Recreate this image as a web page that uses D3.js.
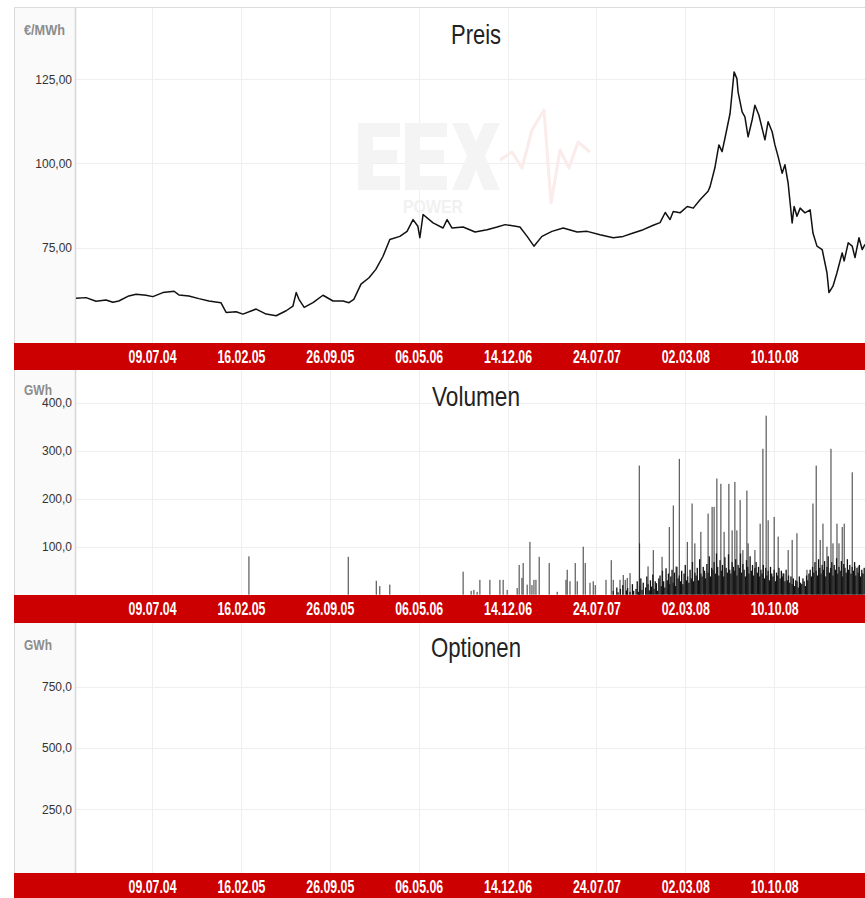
<!DOCTYPE html>
<html><head><meta charset="utf-8">
<script src="https://cdn.jsdelivr.net/npm/d3@7/dist/d3.min.js"></script>
<style>body{margin:0;background:#fff;} svg{display:block;}</style>
</head><body>
<svg id="chart" width="865" height="898"></svg>
<script>
// ---------- DATA ----------
const xTickLabels = ["09.07.04","16.02.05","26.09.05","06.05.06","14.12.06","24.07.07","02.03.08","10.10.08"];
const xDomain = ["2004-01-01","2009-05-25"];

const priceTicks = [75, 100, 125];
const volumeTicks = [100, 200, 300, 400];
const optionTicks = [250, 500, 750];

const priceDates = ["2004-01-01","2004-01-26","2004-02-20","2004-03-16","2004-04-02","2004-04-17","2004-05-12","2004-05-30","2004-06-24","2004-07-11","2004-08-05","2004-09-02","2004-09-14","2004-10-09","2004-11-03","2004-11-28","2004-12-28","2005-01-10","2005-02-04","2005-02-21","2005-03-26","2005-04-20","2005-05-15","2005-06-09","2005-06-26","2005-07-04","2005-07-11","2005-07-24","2005-08-15","2005-09-09","2005-10-04","2005-10-29","2005-11-13","2005-11-25","2005-12-13","2006-01-02","2006-01-19","2006-02-06","2006-02-23","2006-03-20","2006-04-07","2006-04-22","2006-05-04","2006-05-09","2006-05-17","2006-06-11","2006-07-06","2006-07-16","2006-07-28","2006-08-25","2006-09-24","2006-10-24","2006-11-18","2006-12-08","2007-01-14","2007-02-01","2007-02-18","2007-03-10","2007-04-04","2007-05-02","2007-06-06","2007-07-01","2007-08-02","2007-09-04","2007-09-29","2007-10-24","2007-11-18","2007-12-13","2007-12-30","2008-01-12","2008-01-24","2008-02-01","2008-02-18","2008-03-07","2008-03-22","2008-04-08","2008-04-28","2008-05-03","2008-05-15","2008-05-25","2008-06-02","2008-06-09","2008-06-22","2008-07-02","2008-07-09","2008-07-12","2008-07-22","2008-07-29","2008-08-06","2008-08-16","2008-08-23","2008-09-02","2008-09-17","2008-09-25","2008-10-05","2008-10-12","2008-10-20","2008-10-30","2008-11-06","2008-11-14","2008-11-24","2008-11-29","2008-12-06","2008-12-14","2008-12-26","2009-01-08","2009-01-15","2009-01-25","2009-02-07","2009-02-19","2009-02-24","2009-03-06","2009-03-16","2009-03-29","2009-04-03","2009-04-13","2009-04-23","2009-04-30","2009-05-10","2009-05-18","2009-05-25"];
const priceValues = [59.9,60.1,59.0,59.4,58.7,59.1,60.6,61.1,60.8,60.4,61.6,62.0,60.9,60.6,59.8,59.1,58.6,55.7,55.9,55.2,56.7,55.2,54.7,56.2,57.6,61.6,59.6,57.2,58.6,60.8,59.1,59.1,58.6,59.6,64.1,66.0,68.5,72.4,77.4,78.3,79.8,83.3,81.3,77.9,84.8,82.3,80.8,83.3,80.8,81.1,79.6,80.3,81.1,81.8,81.1,78.3,75.4,78.3,79.8,80.8,79.6,79.8,78.8,77.9,78.3,79.3,80.3,81.6,82.4,85.4,83.3,85.7,85.3,87.2,86.7,89.2,91.7,93.1,98.7,105.5,103.5,107.4,114.9,127.2,125.2,121.2,115.3,113.8,107.9,112.9,117.3,114.3,107.0,112.4,109.4,105.5,102.0,97.1,99.6,94.1,82.3,87.2,84.3,86.7,85.3,86.2,79.3,75.4,74.4,67.5,61.6,63.5,67.5,73.4,71.0,76.4,75.4,72.0,77.9,74.4,75.9];

// individual volume spikes
const volumeDates = ["2005-03-08","2005-11-11","2006-01-20","2006-01-29","2006-02-23","2006-08-25","2006-09-14","2006-09-21","2006-09-29","2006-10-06","2006-10-31","2006-11-25","2006-12-03","2006-12-13","2007-01-07","2007-01-12","2007-01-19","2007-01-22","2007-02-01","2007-02-08","2007-02-13","2007-02-18","2007-02-23","2007-03-03","2007-03-28","2007-04-17","2007-05-09","2007-05-12","2007-05-19","2007-06-01","2007-06-06","2007-06-21","2007-06-26","2007-07-08","2007-07-16","2007-07-21","2007-08-17","2007-08-30","2007-09-04","2007-09-21","2007-09-29","2007-10-04","2007-10-09","2007-10-16","2007-11-08","2007-11-09","2007-11-30","2007-12-13","2008-01-04","2008-01-22","2008-02-01","2008-02-08","2008-02-16","2008-03-07","2008-03-19","2008-03-26","2008-04-10","2008-04-20","2008-04-28","2008-05-08","2008-05-13","2008-05-20","2008-05-30","2008-06-07","2008-06-19","2008-06-27","2008-07-04","2008-07-09","2008-07-17","2008-07-24","2008-08-03","2008-08-06","2008-08-23","2008-09-05","2008-09-12","2008-09-20","2008-09-25","2008-10-10","2008-10-20","2008-11-01","2008-11-14","2008-11-24","2008-12-06","2008-12-31","2009-01-15","2009-01-23","2009-02-02","2009-02-09","2009-02-19","2009-03-01","2009-03-06","2009-03-16","2009-03-21","2009-03-29","2009-04-03","2009-04-23","2009-04-30","2009-05-08","2009-05-18"];
const volumeValues = [80,79,29,18,21,48,8,10,6,31,31,31,31,10,14,62,35,66,21,110,20,31,31,79,66,6,31,52,28,66,28,100,66,25,28,20,31,72,31,31,41,31,35,45,269,107,59,93,79,141,186,59,283,110,190,107,131,45,169,183,183,242,231,131,231,134,235,134,197,93,217,107,93,148,304,373,155,162,121,45,93,114,128,52,190,269,114,148,100,304,107,148,107,141,148,255,59,59,45];

// dense daily trading volume, one value every 3 days from 2007-09-01
const volumeDenseStart = "2007-09-01";
const volumeDenseStepDays = 3;
const volumeDenseValues = [0,8,0,0,15,5,0,12,0,20,0,0,9,14,0,6,0,22,8,0,
12,28,6,18,34,10,25,0,15,38,22,9,30,17,42,12,28,24,8,34,
40,18,50,28,15,55,30,44,22,38,52,25,46,18,58,34,40,28,50,22,
44,62,30,38,25,52,34,68,28,46,40,56,30,74,44,38,58,50,34,64,
46,80,38,56,52,68,44,86,58,40,72,50,62,38,78,56,46,84,52,44,
68,58,50,74,40,62,56,86,46,64,52,38,72,58,44,80,50,62,40,56,
68,46,58,38,52,44,62,34,56,40,50,30,58,44,38,52,28,46,40,56,
34,50,38,44,28,52,30,40,25,38,22,34,18,30,28,15,38,25,22,34,
28,18,40,30,44,52,38,58,46,68,50,40,74,56,44,62,52,70,38,58,
80,46,56,68,40,62,52,76,44,58,50,70,38,64,56,46,74,52,62,44,
58,50,68,40,56,46,62,38,52,44,56];

const optionDates = [];
const optionValues = [];

// ---------- CHART ----------
const W = 865, H = 898;
const left = 76, right = 865, frameLeft = 14;
const svg = d3.select("#chart");
const parseISO = d3.timeParse("%Y-%m-%d");
const parseTick = d3.timeParse("%d.%m.%y");
const de = d3.formatLocale({decimal: ",", thousands: ".", grouping: [3], currency: ["", " €"]});

const x = d3.scaleTime().domain(xDomain.map(parseISO)).range([left, right]);
const tickDates = xTickLabels.map(parseTick);

const panels = [
  {title: "Preis", unit: "€/MWh", top: 8, bottom: 343, bandEnd: 370,
   y: d3.scaleLinear().domain([75, 125]).range([247.5, 79.3]), ticks: priceTicks, fmt: de.format(".2f"),
   titleY: 44, titleW: 50, unitY: 34.5, unitW: 41},
  {title: "Volumen", unit: "GWh", top: 370, bottom: 595, bandEnd: 623,
   y: d3.scaleLinear().domain([0, 400]).range([594.7, 402.7]), ticks: volumeTicks, fmt: de.format(".1f"),
   titleY: 406, titleW: 88, unitY: 395, unitW: 28},
  {title: "Optionen", unit: "GWh", top: 623, bottom: 873, bandEnd: 900,
   y: d3.scaleLinear().domain([0, 750]).range([870.6, 686.7]), ticks: optionTicks, fmt: de.format(".1f"),
   titleY: 657, titleW: 90, unitY: 650, unitW: 28}
];

// top frame line
svg.append("line").attr("x1", frameLeft).attr("x2", W).attr("y1", 7.5).attr("y2", 7.5)
  .attr("stroke", "#dcdcdc");

panels.forEach((p, i) => {
  const g = svg.append("g");
  g.append("rect").attr("x", frameLeft).attr("y", p.top).attr("width", left - frameLeft)
    .attr("height", p.bottom - p.top).attr("fill", "#fafafa");
  g.append("g").selectAll("line").data(p.ticks).join("line")
    .attr("x1", left).attr("x2", right)
    .attr("y1", d => Math.round(p.y(d)) + 0.5).attr("y2", d => Math.round(p.y(d)) + 0.5)
    .attr("stroke", "#efefef");
  g.append("g").selectAll("line").data(tickDates).join("line")
    .attr("x1", d => Math.round(x(d)) + 0.5).attr("x2", d => Math.round(x(d)) + 0.5)
    .attr("y1", p.top).attr("y2", p.bottom)
    .attr("stroke", "#efefef");
  g.append("line").attr("x1", frameLeft + 0.5).attr("x2", frameLeft + 0.5)
    .attr("y1", p.top).attr("y2", p.bottom).attr("stroke", "#d8d8d8");
  g.append("line").attr("x1", left - 0.5).attr("x2", left - 0.5)
    .attr("y1", p.top).attr("y2", p.bottom).attr("stroke", "#d6d6d6").attr("stroke-width", 1.5);

  const ya = d3.axisLeft(p.y).tickValues(p.ticks).tickFormat(p.fmt).tickSize(0).tickPadding(4);
  const yg = g.append("g").attr("transform", `translate(${left},0)`).call(ya);
  yg.select(".domain").remove();
  yg.selectAll("text").attr("font-family", "Liberation Sans, Arial, sans-serif")
    .attr("font-size", 12).attr("fill", "#333");

  g.append("text").attr("x", 24).attr("y", p.unitY).text(p.unit)
    .attr("font-family", "Liberation Sans Narrow, Liberation Sans, Arial, sans-serif")
    .attr("font-weight", "bold").attr("font-size", 14).attr("fill", "#8c8c8c")
    .attr("textLength", p.unitW).attr("lengthAdjust", "spacingAndGlyphs");

  g.append("rect").attr("x", frameLeft).attr("y", p.bottom).attr("width", W - frameLeft)
    .attr("height", p.bandEnd - p.bottom).attr("fill", "#cc0000");
  const xa = d3.axisBottom(x).tickValues(tickDates).tickFormat((d, k) => xTickLabels[k]).tickSize(0).tickPadding(0);
  const xg = g.append("g").attr("transform", `translate(0,${p.bottom})`).call(xa);
  xg.select(".domain").remove();
  xg.selectAll("text").attr("dy", null).attr("y", 20)
    .attr("font-family", "Liberation Sans Narrow, Liberation Sans, Arial, sans-serif")
    .attr("font-weight", "bold").attr("font-size", 18).attr("fill", "#fff")
    .attr("textLength", 48).attr("lengthAdjust", "spacingAndGlyphs");
});

// watermark logo (panel 1)
const wm = svg.append("g").attr("pointer-events", "none");
const eShape = ox => `M${ox},123 h42 v14 h-27 v13 h24 v13 h-24 v13 h27 v14 h-42 Z`;
wm.append("path").attr("d", eShape(358) + " " + eShape(405) +
  " M452,123 h16 l8,19 l8,-19 h16 l-15,33 l15,34 h-16 l-8,-20 l-8,20 h-16 l15,-34 Z")
  .attr("fill", "#f4f4f4");
wm.append("path").attr("d", "M500,160 L512,152 L522,168 L532,130 L544,110 L551,203 L560,150 L569,168 L578,142 L590,152")
  .attr("fill", "none").attr("stroke", "#fcebeb").attr("stroke-width", 3).attr("stroke-linejoin", "round");
wm.append("text").attr("x", 403).attr("y", 213).text("POWER")
  .attr("font-family", "Liberation Sans, Arial, sans-serif").attr("font-weight", "bold")
  .attr("font-size", 18).attr("fill", "#f1f1f1").attr("textLength", 60).attr("lengthAdjust", "spacingAndGlyphs");

// panel titles
panels.forEach(p => {
  svg.append("text").attr("x", 476).attr("y", p.titleY).attr("text-anchor", "middle").text(p.title)
    .attr("font-family", "Liberation Sans, Arial, sans-serif").attr("font-size", 28).attr("fill", "#222")
    .attr("textLength", p.titleW).attr("lengthAdjust", "spacingAndGlyphs");
});

// price line
const pP = panels[0];
const priceData = priceDates.map((d, i) => ({date: parseISO(d), v: priceValues[i]}));
svg.append("path").datum(priceData)
  .attr("d", d3.line().x(d => x(d.date)).y(d => pP.y(d.v)))
  .attr("fill", "none").attr("stroke", "#111").attr("stroke-width", 1.5).attr("stroke-linejoin", "round");

// volume bars
const pV = panels[1];
const denseStart = parseISO(volumeDenseStart);
const denseData = volumeDenseValues.map((v, i) => ({date: d3.timeDay.offset(denseStart, i * volumeDenseStepDays), v}))
  .filter(d => d.v > 0);
const spikeData = volumeDates.map((d, i) => ({date: parseISO(d), v: volumeValues[i]}));
const gv = svg.append("g");
gv.selectAll("rect.dense").data(denseData).join("rect").attr("class", "dense")
  .attr("x", d => x(d.date) - 0.65).attr("width", 1.3)
  .attr("y", d => pV.y(d.v)).attr("height", d => pV.y(0) - pV.y(d.v))
  .attr("fill", "#111");
gv.selectAll("rect.spike").data(spikeData).join("rect").attr("class", "spike")
  .attr("x", d => x(d.date) - 0.45).attr("width", 0.9)
  .attr("y", d => pV.y(d.v)).attr("height", d => pV.y(0) - pV.y(d.v))
  .attr("fill", "#222");

// option bars (no data in period)
const pO = panels[2];
svg.append("g").selectAll("rect").data(optionDates.map((d, i) => ({date: parseISO(d), v: optionValues[i]}))).join("rect")
  .attr("x", d => x(d.date) - 0.45).attr("width", 0.9)
  .attr("y", d => pO.y(d.v)).attr("height", d => pO.y(0) - pO.y(d.v)).attr("fill", "#000");
</script>
</body></html>
